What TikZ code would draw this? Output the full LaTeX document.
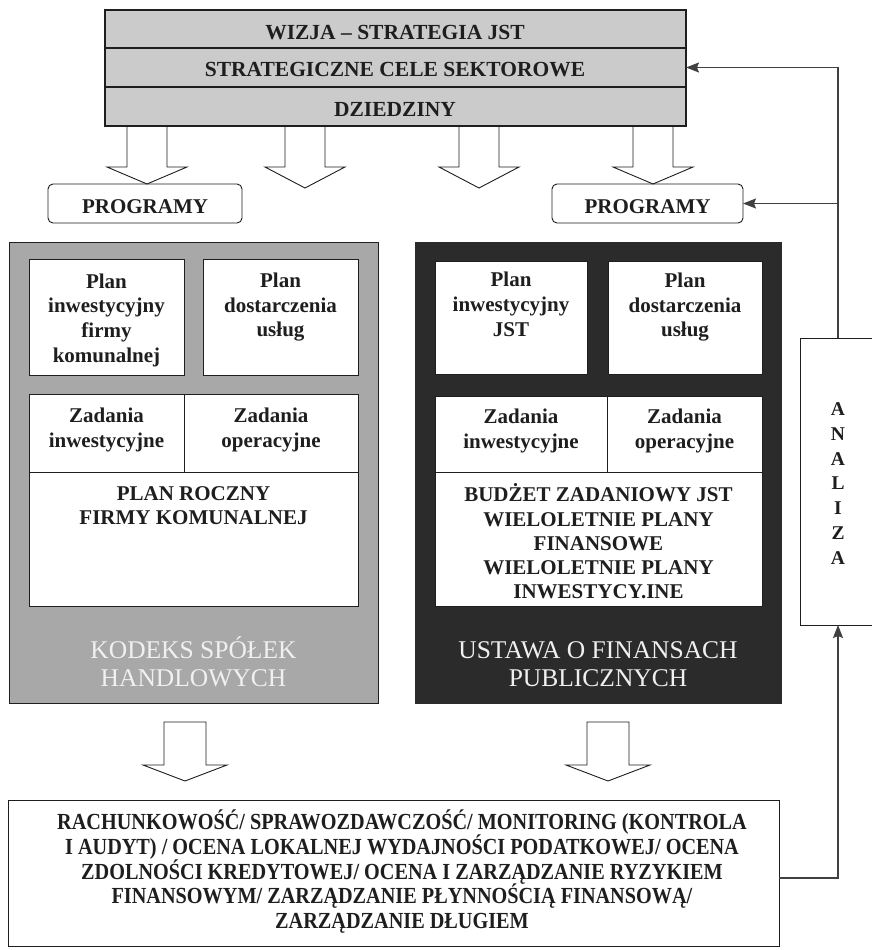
\documentclass[tikz,border=0pt]{standalone}
\usepackage{fontspec}
\setmainfont{Liberation Serif}
\newfontfamily\condserif[FakeStretch=0.88]{Liberation Serif}
\usetikzlibrary{fit,arrows.meta}

\definecolor{inkc}{HTML}{1E1E1E}
\definecolor{hdrgray}{HTML}{CBCBCB}
\definecolor{midgray}{HTML}{A8A8A8}
\definecolor{darkpanel}{HTML}{2B2B2B}
\definecolor{paneltext}{HTML}{F0F0F0}

\tikzset{
  frame/.style={draw=inkc, line width=0.9pt, inner sep=0pt, outer sep=0pt},
  bold21/.style={font=\fontsize{21}{24.6}\selectfont\bfseries, text=inkc, align=center, inner sep=0pt},
  lawtext/.style={font=\fontsize{25.5}{28}\selectfont, text=paneltext, align=center, inner sep=0pt},
  feedback/.style={draw=inkc!85, line width=1.1pt},
  tip/.style={-{Stealth[length=13pt,width=10pt,inset=2pt]}},
  blockarrow/.style={draw=inkc, line width=0.9pt, fill=white, line join=miter},
  pics/arrowopen/.style n args={3}{code={
    \draw[blockarrow] (-#1,0) -- (-#1,#2) -- ({-2*#1},#2) -- (0,#3) -- ({2*#1},#2) -- (#1,#2) -- (#1,0);}},
  pics/arrowclosed/.style n args={3}{code={
    \draw[blockarrow] (-#1,0) -- (-#1,#2) -- ({-2*#1},#2) -- (0,#3) -- ({2*#1},#2) -- (#1,#2) -- (#1,0) -- cycle;}},
}

\begin{document}
\begin{tikzpicture}[x=1pt, y=-1pt]
\fill[white] (0,0) rectangle (871,950);
\useasboundingbox (0,0) rectangle (871,950);

% block arrows from the strategy header down to the programmes
\pic at (147,125) {arrowopen={20}{42}{59}};
\pic at (305,125) {arrowopen={20}{42}{63}};
\pic at (479,125) {arrowopen={20}{42}{63}};
\pic at (653,125) {arrowopen={20}{42}{59}};

% strategy header, three rows
\node[frame, line width=1.2pt, fill=hdrgray, fit={(105,10) (686,48)}] (rowvision) {};
\node[frame, line width=1.2pt, fill=hdrgray, fit={(105,48) (686,87)}] (rowgoals) {};
\node[frame, line width=1.2pt, fill=hdrgray, fit={(105,87) (686,126)}] (rowfields) {};
\node[bold21, font=\fontsize{21.5}{24.6}\selectfont\bfseries, anchor=base] (tvision) at (395,40) {WIZJA – STRATEGIA JST};
\node[bold21, font=\fontsize{21.5}{24.6}\selectfont\bfseries, anchor=base] (tgoals) at (395,77) {STRATEGICZNE CELE SEKTOROWE};
\node[bold21, font=\fontsize{21.5}{24.6}\selectfont\bfseries, anchor=base] (tfields) at (395,116) {DZIEDZINY};

% programme boxes
\node[frame, rounded corners=5pt, fit={(48,184) (242,223)}] (progL) {};
\node[frame, rounded corners=5pt, fit={(552,184) (743,223)}] (progR) {};
\node[bold21, anchor=base] (tprogL) at (145,213) {PROGRAMY};
\node[bold21, anchor=base] (tprogR) at (647.5,213) {PROGRAMY};

% left panel: municipal company
\node[frame, fill=midgray, fit={(9,242) (378,703)}] (panelL) {};
\node[frame, fill=white, fit={(29,259) (184,375)}] (invL) {};
\node[frame, fill=white, fit={(203,259) (358,375)}] (servL) {};
\node[frame, fill=white, fit={(29,394) (184,472)}] (taskinvL) {};
\node[frame, fill=white, fit={(184,394) (358,472)}] (taskopL) {};
\node[frame, fill=white, fit={(29,472) (358,606)}] (annualL) {};
\node[bold21] (tinvL) at (106.5,320.2) {Plan\\inwestycyjny\\firmy\\komunalnej};
\node[bold21] (tservL) at (280.5,307.2) {Plan\\dostarczenia\\usług};
\node[bold21] (ttaskinvL) at (106.5,430.2) {Zadania\\inwestycyjne};
\node[bold21] (ttaskopL) at (271,430.2) {Zadania\\operacyjne};
\node[bold21] (tannualL) at (193.5,505.5) {PLAN ROCZNY\\FIRMY KOMUNALNEJ};
\node[lawtext] (tlawL) at (193.5,662) {KODEKS SPÓŁEK\\HANDLOWYCH};

% right panel: local government unit
\node[fill=darkpanel, draw=darkpanel, inner sep=0pt, outer sep=0pt, fit={(415,242) (781,703)}] (panelR) {};
\node[frame, fill=white, fit={(435,261) (587,374)}] (invR) {};
\node[frame, fill=white, fit={(608,261) (762,374)}] (servR) {};
\node[frame, fill=white, fit={(435,396) (607,472)}] (taskinvR) {};
\node[frame, fill=white, fit={(607,396) (762,472)}] (taskopR) {};
\node[frame, fill=white, fit={(435,472) (762,606)}] (budgetR) {};
\node[bold21] (tinvR) at (511,304.4) {Plan\\inwestycyjny\\JST};
\node[bold21] (tservR) at (685,307.2) {Plan\\dostarczenia\\usług};
\node[bold21] (ttaskinvR) at (521,430.7) {Zadania\\inwestycyjne};
\node[bold21] (ttaskopR) at (684.5,430.7) {Zadania\\operacyjne};
\node[bold21, font=\fontsize{21}{24.25}\selectfont\bfseries] (tbudgetR) at (598.5,541.5)
  {BUDŻET ZADANIOWY JST\\WIELOLETNIE PLANY\\FINANSOWE\\WIELOLETNIE PLANY\\INWESTYCY.INE};
\node[lawtext] (tlawR) at (598,664.5) {USTAWA O FINANSACH\\PUBLICZNYCH};

% arrows down to the reporting box
\pic at (185,722) {arrowclosed={21}{43}{59}};
\pic at (608,722) {arrowclosed={21}{43}{59}};

% reporting and monitoring box
\node[frame, fit={(8,800) (779,946)}] (report) {};
\node[inner sep=0pt, align=center, text=inkc,
      font=\condserif\bfseries\fontsize{23}{24.75}\selectfont] (treport) at (402,871.7)
  {RACHUNKOWOŚĆ/ SPRAWOZDAWCZOŚĆ/ MONITORING (KONTROLA\\
   I AUDYT) / OCENA LOKALNEJ WYDAJNOŚCI PODATKOWEJ/ OCENA\\
   ZDOLNOŚCI KREDYTOWEJ/ OCENA I ZARZĄDZANIE RYZYKIEM\\
   FINANSOWYM/ ZARZĄDZANIE PŁYNNOŚCIĄ FINANSOWĄ/\\
   ZARZĄDZANIE DŁUGIEM};

% analysis box on the right edge
\node[frame, fit={(800,338) (890,625)}] (analysis) {};
\node[inner sep=0pt, align=center, text=inkc,
      font=\fontsize{19.5}{24.8}\selectfont\bfseries] (tanalysis) at (838,483.5)
  {A\\N\\A\\L\\I\\Z\\A};

% feedback loop
\coordinate (spine) at (838,203.5);
\coordinate (reportout) at (779,878);
\draw[feedback, tip] (analysis.north -| spine) |- (rowgoals.east);
\draw[feedback, tip] (spine) -- (progR.east);
\draw[feedback, tip] (reportout) -| (analysis.south -| spine);
\end{tikzpicture}
\end{document}
